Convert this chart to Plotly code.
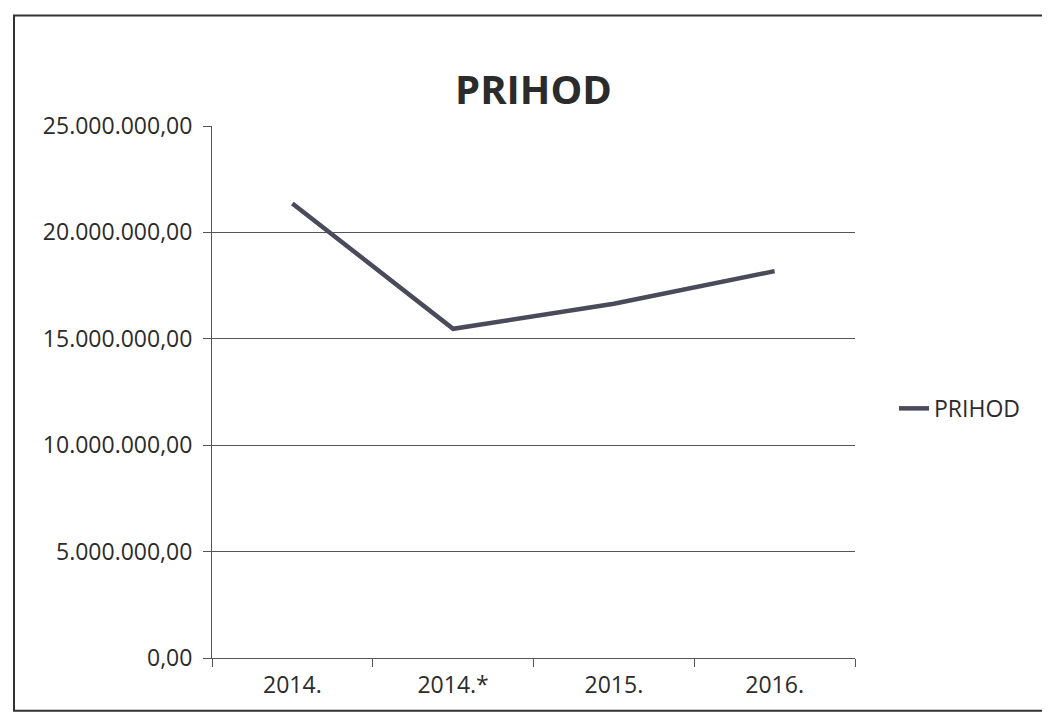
import plotly.graph_objects as go

categories = ["2014.", "2014.*", "2015.", "2016."]
prihod = [21360000, 15470000, 16650000, 18180000]
series_name = "PRIHOD"
y_ticks = [0, 5000000, 10000000, 15000000, 20000000, 25000000]

# page has an 8px body margin; work in figure coordinates
OFF = 8
W, H = 1034, 704
L, T = 212 - OFF, 126 - OFF
PLOT_R, PLOT_B = 855 - OFF, 661 - OFF
R, B = W - PLOT_R, H - PLOT_B
pw, ph = PLOT_R - L, PLOT_B - T

def px_x(x):
    return (x - L) / pw

def px_y(y):
    return (PLOT_B - y) / ph

FONT = "Open Sans"
TXT = "#2b2b2b"

fig = go.Figure()
fig.add_trace(go.Scatter(
    x=categories, y=prihod, mode="lines", name=series_name,
    line=dict(color="#4a4a5a", width=4.5),
))

fig.update_layout(
    width=W, height=H,
    margin=dict(l=L, r=R, t=T, b=B),
    paper_bgcolor="white", plot_bgcolor="white",
    separators=",.",
    showlegend=True,
    title=dict(text="<b>PRIHOD</b>", x=0.5, xanchor="center", xref="paper",
               y=1 - (90 - OFF) / H, yref="container", yanchor="middle",
               font=dict(family=FONT, size=40, color=TXT)),
    legend=dict(x=px_x(886), y=px_y(410 - OFF), xanchor="left", yanchor="middle",
                font=dict(family=FONT, size=23, color=TXT),
                bgcolor="rgba(0,0,0,0)"),
    font=dict(family=FONT, size=23, color=TXT),
)

fig.update_xaxes(
    type="category", tickson="boundaries", ticks="outside", ticklen=8,
    tickcolor="#555", showline=True, linecolor="#555", linewidth=1,
    showgrid=False, tickfont=dict(family=FONT, size=23, color=TXT),
    ticklabelstandoff=6,
    range=[-0.5, 3.5],
)
fig.update_yaxes(
    range=[0, 25000000], tickvals=y_ticks, tickformat=",.2f",
    ticks="outside", ticklen=8, tickcolor="#555",
    showline=True, linecolor="#555", linewidth=1,
    showgrid=True, gridcolor="#555", gridwidth=1,
    zeroline=False, tickfont=dict(family=FONT, size=23, color=TXT),
    ticklabelstandoff=6,
)

fig.add_shape(type="rect", xref="paper", yref="paper",
              x0=px_x(14 - OFF), x1=px_x(1048 - OFF + 20),
              y0=px_y(714 - OFF), y1=px_y(15 - OFF),
              line=dict(color="#333", width=2), fillcolor="rgba(0,0,0,0)", layer="below")

fig.write_html("out.html")
